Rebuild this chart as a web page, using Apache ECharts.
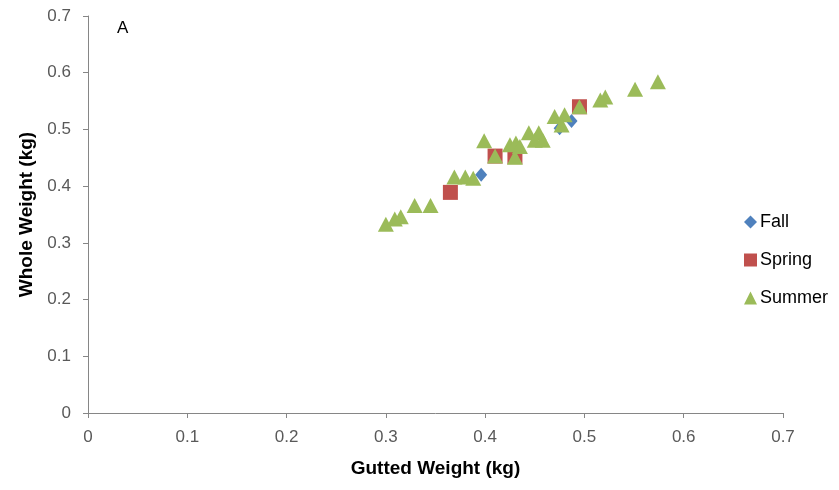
<!DOCTYPE html>
<html>
<head>
<meta charset="utf-8">
<script src="https://cdn.jsdelivr.net/npm/echarts@6/dist/echarts.min.js"></script>
<style>
html,body{margin:0;padding:0;background:#fff;}
#c{width:839px;height:490px;}
</style>
</head>
<body>
<div id="c"></div>
<script>
const fallX = [0.396, 0.475, 0.487];
const fallY = [0.420, 0.502, 0.515];
const springX = [0.365, 0.410, 0.430, 0.495];
const springY = [0.389, 0.453, 0.452, 0.540];
const summerX = [0.300, 0.309, 0.315, 0.329, 0.345, 0.369, 0.380, 0.388, 0.399, 0.410, 0.425, 0.431, 0.435, 0.430, 0.444, 0.454, 0.450, 0.458, 0.470, 0.480, 0.477, 0.495, 0.516, 0.521, 0.551, 0.574];
const summerY = [0.333, 0.342, 0.346, 0.366, 0.366, 0.416, 0.416, 0.414, 0.480, 0.453, 0.473, 0.476, 0.470, 0.451, 0.494, 0.494, 0.481, 0.481, 0.523, 0.526, 0.508, 0.540, 0.552, 0.557, 0.571, 0.584];
const xTicks = [0, 0.1, 0.2, 0.3, 0.4, 0.5, 0.6, 0.7];
const yTicks = [0, 0.1, 0.2, 0.3, 0.4, 0.5, 0.6, 0.7];

const zip = (a, b) => a.map((v, i) => [v, b[i]]);
const font = '"Liberation Sans", Arial, sans-serif';
const chart = echarts.init(document.getElementById('c'), null, {renderer: 'canvas'});
const axisCommon = {
  min: 0, max: 0.7, interval: 0.1,
  splitLine: {show: false},
  axisLine: {show: true, onZero: false, lineStyle: {color: '#868686', width: 1}},
  axisTick: {show: true, inside: false, length: 5, lineStyle: {color: '#868686'}},
  nameTextStyle: {fontFamily: font, fontSize: 19, fontWeight: 'bold', color: '#000'}
};
chart.setOption({
  animation: false,
  backgroundColor: '#fff',
  grid: {left: 88, right: 56, top: 16, bottom: 77, containLabel: false},
  xAxis: Object.assign({}, axisCommon, {
    type: 'value',
    name: 'Gutted Weight (kg)', nameLocation: 'middle', nameGap: 46,
    axisLabel: {margin: 16, fontFamily: font, fontSize: 17, color: '#595959',
      formatter: v => String(xTicks.find(t => Math.abs(t - v) < 1e-9) ?? v)}
  }),
  yAxis: Object.assign({}, axisCommon, {
    type: 'value',
    name: 'Whole Weight (kg)', nameLocation: 'middle', nameGap: 52, nameRotate: 90,
    axisLabel: {margin: 17, fontFamily: font, fontSize: 17, color: '#595959',
      formatter: v => String(yTicks.find(t => Math.abs(t - v) < 1e-9) ?? v)}
  }),
  legend: {
    orient: 'vertical', left: 739, top: 208,
    itemWidth: 13, itemHeight: 13, itemGap: 20,
    textStyle: {fontFamily: font, fontSize: 18, color: '#000', padding: [0, 0, 0, -2]},
    data: [
      {name: 'Fall', icon: 'diamond'},
      {name: 'Spring', icon: 'rect'},
      {name: 'Summer', icon: 'triangle'}
    ]
  },
  graphic: [{type: 'text', left: 117, top: 20, style: {text: 'A', font: '17px ' + font, fill: '#000'}}],
  series: [
    {name: 'Fall', type: 'scatter', symbol: 'diamond', symbolSize: [12, 14], itemStyle: {color: '#4F81BD', opacity: 1}, data: zip(fallX, fallY), z: 2},
    {name: 'Spring', type: 'scatter', symbol: 'rect', symbolSize: 15, itemStyle: {color: '#C0504D', opacity: 1}, data: zip(springX, springY), z: 3},
    {name: 'Summer', type: 'scatter', symbol: 'triangle', symbolSize: [16, 15], itemStyle: {color: '#9BBB59', opacity: 1}, data: zip(summerX, summerY), z: 4}
  ]
});
</script>
</body>
</html>
